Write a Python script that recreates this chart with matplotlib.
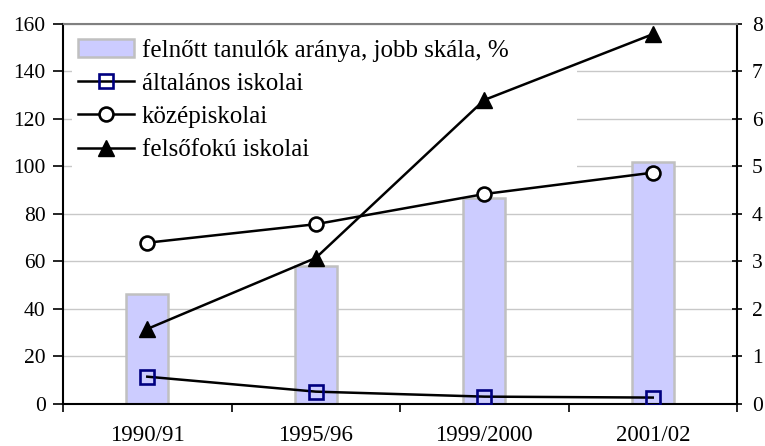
import matplotlib.pyplot as plt
from matplotlib.ticker import FixedLocator, NullFormatter

# data
categories = ["1990/91", "1995/96", "1999/2000", "2001/02"]
adult_share = [2.31, 2.91, 4.34, 5.09]      # right scale, %
altalanos = [11.5, 5.2, 3.1, 2.7]
kozep = [67.9, 75.7, 88.4, 97.4]
felso = [31.6, 61.5, 128.0, 155.7]

plt.rcParams["font.family"] = ["Liberation Serif", "DejaVu Serif"]

fig = plt.figure(figsize=(7.65, 4.46), dpi=100)
# main axes: bars on the right scale, grid
ax = fig.add_axes([0.0824, 0.0942, 0.8810, 0.8520])
x = list(range(len(categories)))
bars = ax.bar(x, adult_share, width=0.25, color="#CCCCFF", edgecolor="#C0C0C0",
              linewidth=1.8, zorder=2, label="felnőtt tanulók aránya, jobb skála, %")
ax.set_ylim(0, 8)
ax.set_xlim(-0.5, 3.5)
ax.set_axisbelow(True)
ax.grid(axis="y", color="#C8C8C8", linewidth=1.0, zorder=0)

# x axis: ticks between categories, labels at centres
ax.xaxis.set_major_locator(FixedLocator([-0.5, 0.5, 1.5, 2.5, 3.5]))
ax.xaxis.set_major_formatter(NullFormatter())
ax.set_xticks(x, minor=True)
ax.set_xticklabels(categories, minor=True)
ax.tick_params(axis="x", which="major", direction="out", length=6, width=1.2)
ax.tick_params(axis="x", which="minor", length=0, pad=15, labelsize=16.5)

for s in ["left", "right", "bottom"]:
    ax.spines[s].set_color("black")
    ax.spines[s].set_linewidth(1.5)
ax.spines["top"].set_color("#808080")
ax.spines["top"].set_linewidth(1.5)

# twin axes: lines on the left scale
ax2 = ax.twinx()
ax.yaxis.tick_right()
ax.set_yticks(range(0, 9))
ax.tick_params(axis="y", direction="inout", length=7.5, width=1.2, labelsize=15.5, pad=7)
ax2.yaxis.tick_left()
ax2.set_ylim(0, 160)
ax2.set_yticks(range(0, 161, 20))
ax2.tick_params(axis="y", direction="out", length=7, width=1.2, labelsize=15.5, pad=5.5)
for s in ax2.spines.values():
    s.set_visible(False)

l1, = ax2.plot(x, altalanos, color="black", linewidth=1.8, marker="s", markersize=10,
               markerfacecolor="none", markeredgecolor="#000080", markeredgewidth=1.9,
               label="általános iskolai")
l2, = ax2.plot(x, kozep, color="black", linewidth=1.8, marker="o", markersize=10,
               markerfacecolor="white", markeredgecolor="black", markeredgewidth=1.9,
               label="középiskolai")
l3, = ax2.plot(x, felso, color="black", linewidth=1.8, marker="^", markersize=12,
               markerfacecolor="black", markeredgecolor="black",
               label="felsőfokú iskolai")

leg = ax.legend(handles=[bars, l1, l2, l3], loc="upper left",
                bbox_to_anchor=(0.013, 0.5, 0.75, 0.478), mode="expand",
                fontsize=18, frameon=True, framealpha=1, facecolor="white",
                edgecolor="none", fancybox=False, handlelength=2.25, handleheight=0.7,
                handletextpad=0.3, labelspacing=0.43, borderpad=0.25, borderaxespad=0.0)
leg.set_zorder(5)

fig.savefig("out.png", dpi=100)
